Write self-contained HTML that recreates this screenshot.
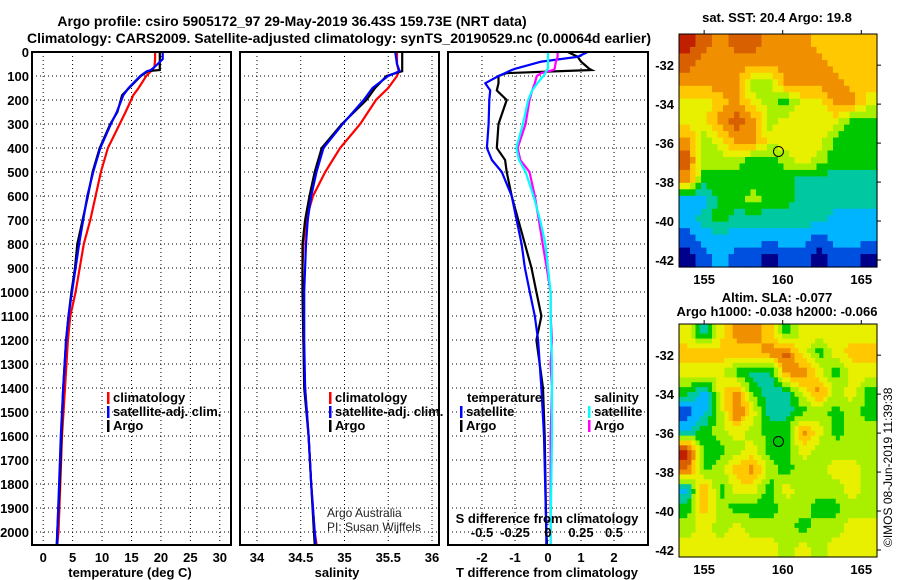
<!DOCTYPE html>
<html><head><meta charset="utf-8"><style>
body{margin:0;background:#fff;}
svg{display:block;font-family:"Liberation Sans",sans-serif;}
.b{font-weight:bold;font-size:13px;}
</style></head><body>
<svg id="c" width="900" height="580" xmlns="http://www.w3.org/2000/svg">
<text x="292" y="26" text-anchor="middle" font-size="14" font-weight="bold">Argo profile: csiro 5905172_97 29-May-2019 36.43S 159.73E (NRT data)</text>
<text x="339" y="43" text-anchor="middle" font-size="14" font-weight="bold">Climatology: CARS2009. Satellite-adjusted climatology: synTS_20190529.nc (0.00064d earlier)</text>
<g id="g"></g>
</svg>
<script>
// ---- data ----
const depthTicks=[0,100,200,300,400,500,600,700,800,900,1000,1100,1200,1300,1400,1500,1600,1700,1800,1900,2000];
const tTicks=[0,5,10,15,20,25,30];
const sTicks=[34,34.5,35,35.5,36];
const dTTicks=[-2,-1,0,1,2];
const dSTicks=[-0.5,-0.25,0,0.25,0.5];
const dSLabels=["-0.5","-0.25","0","0.25","0.5"];
const tDepth=[0,30,60,75,80,100,150,180,250,300,400,500,600,700,800,900,1000,1100,1200,1400,1600,1800,2000,2050];
const tClim=[19.0,19.0,18.9,18.6,18.3,17.5,16.2,15.3,14,13,11,9.8,8.9,8,6.9,6.2,5.5,4.6,4.2,3.7,3.2,2.9,2.6,2.4];
const tSat=[20.3,20.3,19,18.3,17.6,16.5,14.5,13.6,12.5,11.5,9.7,8.5,7.5,6.8,6.1,5.5,4.9,4.3,3.9,3.4,3.0,2.7,2.4,2.4];
const tArgo=[19.8,19.8,19.8,19.8,17.8,16.6,14.6,13.4,12.6,11.4,9.6,8.4,7.6,6.7,5.8,5.4,4.8,4.3,3.9,3.4,3.1,2.8,2.4,2.3];
const sDepth=[0,50,80,100,150,200,300,400,500,600,700,800,900,1000,1200,1400,1600,1800,2000,2050];
const sClim=[35.6,35.6,35.62,35.6,35.5,35.36,35.18,34.95,34.78,34.64,34.56,34.53,34.52,34.52,34.53,34.55,34.59,34.62,34.66,34.68];
const sSat=[35.58,35.6,35.63,35.5,35.32,35.22,34.98,34.76,34.68,34.62,34.58,34.56,34.55,34.54,34.54,34.55,34.59,34.62,34.66,34.67];
const sArgo=[35.66,35.66,35.66,35.48,35.35,35.25,34.97,34.74,34.66,34.6,34.55,34.52,34.52,34.52,34.53,34.54,34.59,34.62,34.65,34.66];
const dDepth=[0,20,40,70,75,88,100,130,160,200,300,400,450,500,600,700,800,900,1000,1100,1200,1300,1400,1600,2000,2050];
const dTSat=[1.2,0.9,-0.2,-1.0,-1.1,-1.3,-1.5,-1.9,-1.75,-1.78,-1.8,-1.85,-1.7,-1.4,-1.1,-0.95,-0.8,-0.7,-0.55,-0.4,-0.3,-0.25,-0.2,-0.12,-0.05,-0.05];
const dTArgo=[0.6,0.9,1.0,1.25,1.32,-1.25,-1.5,-1.5,-1.55,-1.25,-1.5,-1.55,-1.3,-1.25,-1.1,-0.9,-0.7,-0.5,-0.35,-0.2,-0.35,-0.25,-0.15,-0.1,-0.05,-0.03];
const dSSat=[0,0,0,0,-0.01,-0.02,-0.035,-0.08,-0.12,-0.15,-0.19,-0.24,-0.22,-0.17,-0.11,-0.06,-0.02,0,0.02,0.02,0.025,0.03,0.03,0.03,0.02,0.02];
const dSArgo=[0.073,0.073,0.06,0.05,0.04,-0.05,-0.085,-0.1,-0.12,-0.14,-0.17,-0.23,-0.21,-0.14,-0.1,-0.07,-0.04,-0.01,0.02,0.02,0.03,0.02,0.03,0.02,0.02,0.02];
const sstGrid=[
[10,9,8,9,9,8,8,8,7,7,7,7],[9,8,8,8,8,8,8,8,8,7,7,7],[8,8,8,8,5,5,8,8,8,8,7,7],
[6,6,7,8,6,5,4,6,6,8,8,6],[6,6,8,9,8,5,6,6,6,6,4,4],[8,5,6,8,8,6,6,6,6,4,4,4],
[9,5,5,5,4,4,5,6,5,4,4,4],[8,4,4,4,4,4,4,3,3,3,3,3],[2,2,4,4,5,4,4,3,3,3,3,3],
[2,3,4,3,3,3,3,3,3,2,2,2],[1,2,2,2,2,2,2,2,1,2,2,2],[0,1,2,1,1,0,1,1,0,1,1,0]];
const slaGrid=[
[6,3,6,8,8,7,4,6,6,6,6,6],[7,7,7,7,7,8,9,6,4,6,7,7],[6,6,6,4,3,3,8,8,6,4,6,6],
[4,2,6,8,4,3,3,6,8,5,6,4],[1,2,5,9,6,3,3,4,5,4,5,4],[2,4,5,6,5,4,4,8,6,4,5,5],
[10,4,4,5,6,4,4,6,5,5,5,5],[9,4,5,7,8,5,4,5,5,6,6,5],[2,8,4,6,6,4,6,5,5,5,6,5],
[4,7,5,4,4,4,5,5,4,4,5,5],[5,6,5,6,5,5,5,4,5,5,6,6],[6,6,6,6,6,6,5,6,5,6,6,6]];
const palette=["#00008b","#0050e0","#00b4ff","#00c8a0","#00c800","#a8f000","#e8f000","#ffc800","#f09000","#d86000","#c02000"];
const lonTicks=[155,160,165];
const latTicks=[-32,-34,-36,-38,-40,-42];
const argoLon=159.73, argoLat=-36.43;
// ---- helpers ----
const NS="http://www.w3.org/2000/svg";const G=document.getElementById('g');
function el(t,a,p){const e=document.createElementNS(NS,t);for(const k in a)e.setAttribute(k,a[k]);(p||G).appendChild(e);return e;}
function txt(x,y,s,anchor,cls,p){const e=el('text',{x:x,y:y,'text-anchor':anchor||'start','class':cls||'b'},p);e.textContent=s;return e;}
const top0=52,bot=545;
const yD=d=>top0+d*0.24;
function panel(x0,x1,dmin,dmax,name){
  const sx=v=>x0+(v-dmin)/(dmax-dmin)*(x1-x0);
  const g=el('g',{});
  
  
  return {sx,g};
}
function grid(P,x0,x1,xt){
  depthTicks.forEach(d=>{if(d>0){const l=el('line',{x1:x0,x2:x1,y1:yD(d),y2:yD(d),stroke:'#000','stroke-dasharray':'1 3'},P.g);}});
  xt.forEach(v=>{const l=el('line',{x1:P.sx(v),x2:P.sx(v),y1:top0,y2:bot,stroke:'#000','stroke-dasharray':'1 3'},P.g);});
}
function frame(P,x0,x1){const r=el('rect',{x:x0,y:top0,width:x1-x0,height:bot-top0,fill:'none',stroke:'#000','stroke-width':2},P.g);}
function line(P,xs,ds,col,name,scale){
  const pts=xs.map((v,i)=>P.sx(v*(scale||1)).toFixed(1)+','+yD(ds[i]).toFixed(1)).join(' ');
  const l=el('polyline',{points:pts,fill:'none',stroke:col,'stroke-width':2.2},P.g);
  
  
}
function legend(P,x,y,items){
  items.forEach((it,i)=>{
    const r=el('rect',{x:x,y:y+i*14-10,width:2.5,height:12,fill:it[1]},P.g);
    
    
    const t=txt(x+6,y+i*14,it[0],'start','b',P.g);
    
    
  });
}
depthTicks.forEach(d=>{const t=txt(29,yD(d)+5,String(d),'end');});
// Panel 1 temperature
const P1=panel(32,231,-1.9,31.9,'temperature-panel');
grid(P1,32,231,tTicks);
line(P1,tClim,tDepth,'#f00','temp-climatology-line');
line(P1,tArgo,tDepth,'#000','temp-argo-line');
line(P1,tSat,tDepth,'#00f','temp-satellite-line');
frame(P1,32,231);
tTicks.forEach(v=>{const t=txt(P1.sx(v),562,String(v),'middle');});
{const t=txt(130,577,'temperature (deg C)','middle');}
legend(P1,107,402,[['climatology','#f00'],['satellite-adj. clim.','#00f'],['Argo','#000']]);
// Panel 2 salinity
const P2=panel(240,439,33.806,36.08,'salinity-panel');
grid(P2,240,439,sTicks);
line(P2,sClim,sDepth,'#f00','sal-climatology-line');
line(P2,sArgo,sDepth,'#000','sal-argo-line');
line(P2,sSat,sDepth,'#00f','sal-satellite-line');
frame(P2,240,439);
sTicks.forEach(v=>{const t=txt(P2.sx(v),562,String(v),'middle');});
{const t=txt(337,577,'salinity','middle');}
legend(P2,329,402,[['climatology','#f00'],['satellite-adj. clim.','#00f'],['Argo','#000']]);
{const t=el('text',{x:327,y:517,'font-size':12,fill:'#222'});t.textContent='Argo Australia';
 const t2=el('text',{x:327,y:531,'font-size':12,fill:'#222'});t2.textContent='PI: Susan Wijffels';}
// Panel 3 differences
const P3=panel(448,648,-3.03,3.03,'difference-panel');
grid(P3,448,648,dTTicks);
line(P3,dTArgo,dDepth,'#000','tdiff-argo-line');
line(P3,dTSat,dDepth,'#00f','tdiff-satellite-line');
line(P3,dSArgo,dDepth,'#f0f','sdiff-argo-line',4);
line(P3,dSSat,dDepth,'#0ff','sdiff-satellite-line',4);
frame(P3,448,648);
dTTicks.forEach(v=>{const t=txt(P3.sx(v),562,String(v),'middle');});
dSTicks.forEach((v,i)=>{const t=txt(P3.sx(v*4),537,dSLabels[i],'middle');});
{const t=txt(547,523,'S difference from climatology','middle');
 const t2=txt(547,577,'T difference from climatology','middle');}
{const t=txt(467,402,'temperature');
 const t2=txt(594,402,'salinity');}
legend(P3,460,416,[['satellite','#00f'],['Argo','#000']]);
legend(P3,588,416,[['satellite','#0ff'],['Argo','#f0f']]);
// Maps (bilinear-upsampled from coarse grids)
function sample(gv,fr,fc){
  const R=gv.length,C=gv[0].length;
  const r=Math.min(Math.max(fr,0),R-1),c=Math.min(Math.max(fc,0),C-1);
  const r0=Math.floor(r),c0=Math.floor(c),r1=Math.min(r0+1,R-1),c1=Math.min(c0+1,C-1),a=r-r0,b=c-c0;
  return gv[r0][c0]*(1-a)*(1-b)+gv[r0][c1]*(1-a)*b+gv[r1][c0]*a*(1-b)+gv[r1][c1]*a*b;
}
function map(y0,gridv,name,up){
  const x0=679,x1=877,y1=y0+233,lon0=153.4,lon1=166.0,lat0=-30.4,lat1=-42.36;
  const mx=v=>x0+(v-lon0)/(lon1-lon0)*(x1-x0);
  const my=v=>y0+(v-lat0)/(lat1-lat0)*(y1-y0);
  const g=el('g',{});
  
  
  const R=gridv.length*up,C=gridv[0].length*up,cw=(x1-x0)/C,ch=(y1-y0)/R;
  for(let r=0;r<R;r++)for(let c=0;c<C;c++){
    const v=Math.round(sample(gridv,(r+0.5)/up-0.5,(c+0.5)/up-0.5));
    const cell=el('rect',{x:(x0+c*cw).toFixed(2),y:(y0+r*ch).toFixed(2),width:(cw+0.6).toFixed(2),height:(ch+0.6).toFixed(2),fill:palette[v]},g);
    
    
  }
  const fr=el('rect',{x:x0,y:y0,width:x1-x0,height:y1-y0,fill:'none',stroke:'#000','stroke-width':1},g);
  
  lonTicks.forEach(v=>{el('line',{x1:mx(v),x2:mx(v),y1:y0-4,y2:y0,stroke:'#000'},g);
    const t=txt(mx(v),y1+17,String(v),'middle','b',g);});
  latTicks.forEach(v=>{el('line',{x1:x1,x2:x1+4,y1:my(v),y2:my(v),stroke:'#000'},g);
    const t=txt(674,my(v)+5,String(v),'end','b',g);});
  const c=el('circle',{cx:mx(argoLon),cy:my(argoLat),r:5,fill:'none',stroke:'#000','stroke-width':1},g);
  
}
map(34,sstGrid,'sst-map',3);
map(324,slaGrid,'sla-map',4);
{const t=txt(777,22,'sat. SST: 20.4 Argo: 19.8','middle');
 const t2=txt(777,302,'Altim. SLA: -0.077','middle');
 const t3=txt(777,316,'Argo h1000: -0.038 h2000: -0.066','middle');
 const t4=el('text',{x:0,y:0,'font-size':12,transform:'translate(892,547) rotate(-90)'});t4.textContent='©IMOS 08-Jun-2019 11:39:38';}
</script>
</body></html>
